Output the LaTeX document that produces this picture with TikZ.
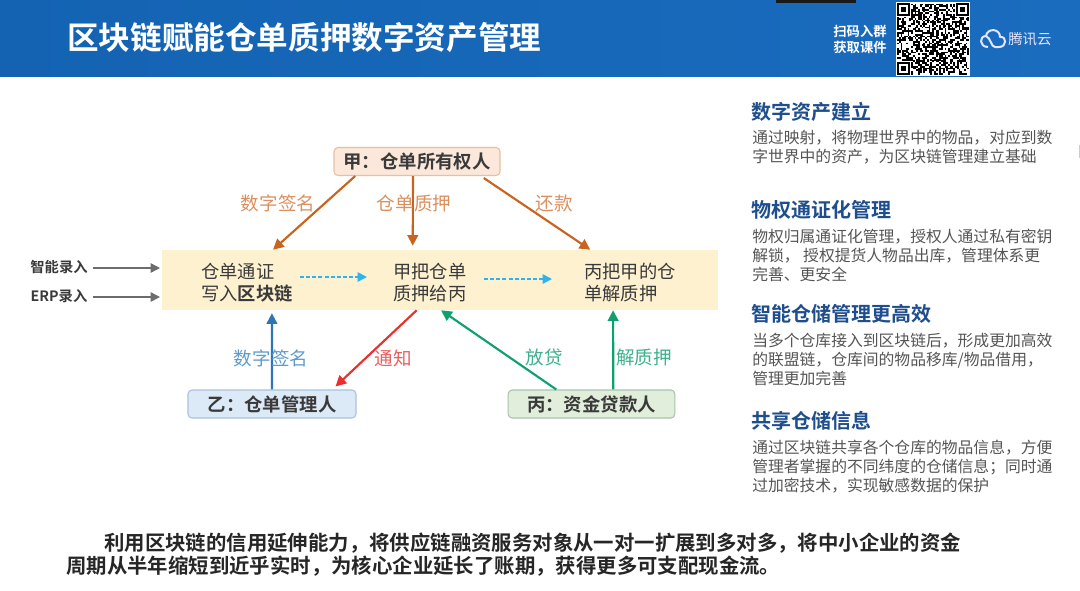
\documentclass[tikz,border=0pt]{standalone}
\usepackage{fontspec}
\setmainfont{Noto Sans CJK SC}[BoldFont={Noto Sans CJK SC Bold}]
\usetikzlibrary{arrows.meta,calc}
\definecolor{hdrA}{HTML}{1463B3}
\definecolor{hdrB}{HTML}{1A6CBE}
\definecolor{orangeL}{HTML}{C8641E}
\definecolor{orangeT}{HTML}{DB9060}
\definecolor{blueL}{HTML}{2E75B6}
\definecolor{blueT}{HTML}{5E9BCB}
\definecolor{redL}{HTML}{E8302F}
\definecolor{redT}{HTML}{E8605F}
\definecolor{greenL}{HTML}{0FA06E}
\definecolor{greenT}{HTML}{3FB08C}
\definecolor{dashC}{HTML}{2DB4F0}
\definecolor{headC}{HTML}{1F4E8C}
\definecolor{bodyC}{HTML}{555555}
\definecolor{darkT}{HTML}{3A3A3A}
\definecolor{bandC}{HTML}{FDF1D0}
\definecolor{jiaF}{HTML}{FBE8DA}
\definecolor{jiaD}{HTML}{E8BFA3}
\definecolor{yiF}{HTML}{DCE9F6}
\definecolor{yiD}{HTML}{A9C3DC}
\definecolor{bingF}{HTML}{E1EEDB}
\definecolor{bingD}{HTML}{A8C4AC}
\tikzset{
  x=0.75pt,y=-0.75pt,
  party/.style={draw=#1,rounded corners=3pt,line width=.8pt,minimum height=21pt,inner sep=0pt,font=\fontsize{13.8}{16}\selectfont\bfseries,text=darkT},
  bandtext/.style={anchor=west,align=left,font=\fontsize{13.7}{16.5}\selectfont,text=darkT,inner sep=0pt},
  edgetext/.style={font=\fontsize{13.9}{16}\selectfont,inner sep=0pt},
  conn/.style={line width=1.6pt,-{Triangle[length=8pt,width=8pt]}},
  flow/.style={line width=1.2pt,dashC,dash pattern=on 3pt off 1.6pt,-{Triangle[length=7pt,width=7pt]}},
  inp/.style={line width=1.1pt,gray!85!black,-{Triangle[length=7pt,width=7pt]}},
  inlabel/.style={font=\fontsize{10.7}{12}\selectfont\bfseries,text=darkT,inner sep=0pt},
  sidehead/.style={anchor=west,inner sep=0pt,font=\fontsize{15}{18}\selectfont\bfseries,text=headC},
  sidebody/.style={anchor=north west,inner sep=0pt,align=left,font=\fontsize{11.85}{14.2}\selectfont,text=bodyC},
  foot/.style={anchor=west,inner sep=0pt,font=\fontsize{15.3}{18}\selectfont\bfseries,text=black!85},
  qrbig/.style={draw=black,line width=1.3pt,fill=white},
}
\begin{document}
\begin{tikzpicture}
\useasboundingbox (0,0) rectangle (1080,590);
\fill[white] (0,0) rectangle (1080,590);
% header
\shade[left color=hdrA,right color=hdrB] (0,0) rectangle (1080,76);
\fill[black!90] (776,0) rectangle (856,3);
\fill[gray!40] (1078.5,145) rectangle (1080,158);
\node[anchor=west,inner sep=0pt,text=white,font=\fontsize{23.7}{28}\selectfont\bfseries] (title) at (67,38) {区块链赋能仓单质押数字资产管理};
\node[inner sep=0pt,text=white,align=center,font=\fontsize{10}{12}\selectfont\bfseries] (scan) at (860,39) {扫码入群\\获取课件};
% QR
\fill[white] (896,2) rectangle (970,76);
\pgfmathsetseed{4242}
\foreach \i in {0,...,40}{\foreach \j in {0,...,39}{
  \pgfmathparse{rnd<0.52?1:0}
  \ifnum\pgfmathresult=1
    \fill[black] ({897+\i*1.76},{3.5+\j*1.78}) rectangle ++(1.8,1.82);
  \fi
}}
\foreach \a/\b in {897/3,956/3,897/62}{
  \fill[white] (\a-1,\b-1) rectangle ++(15,15);
  \draw[qrbig] (\a+1,\b+1) rectangle ++(11,11);
  \fill[black] (\a+4,\b+4) rectangle ++(5,5);
}
% cloud logo
\draw[white!90!blue,line width=1.5pt,line join=round]
  (988,47) .. controls (979,47) and (979,36) .. (986,36)
  .. controls (987,28) and (1000,28) .. (1000,37)
  .. controls (1007,36) and (1007,47) .. (999,47) -- (995,47)
  .. controls (991,47) and (991,38) .. (986,36);
\node[anchor=west,inner sep=0pt,text=white!90!blue,font=\fontsize{10.8}{13}\selectfont] (brand) at (1008,39) {腾讯云};
% band
\node[fill=bandC,inner sep=0pt,minimum width=417pt,minimum height=45pt] (band) at (440,280) {};
\node[bandtext] (s1) at (201,283) {仓单通证\\写入\textbf{区块链}};
\node[bandtext] (s2) at (393,283) {甲把仓单\\质押给丙};
\node[bandtext] (s3) at (584,283) {丙把甲的仓\\单解质押};
\coordinate (f1a) at (300,277); \coordinate (f1b) at (367,277);
\coordinate (f2a) at (484,279); \coordinate (f2b) at (552,279);
\draw[flow] (f1a) -- (f1b);
\draw[flow] (f2a) -- (f2b);
% parties
\node[party=jiaD,fill=jiaF,minimum width=124.5pt] (jia) at (417,161.5) {甲：仓单所有权人};
\node[party=yiD,fill=yiF,minimum width=126pt] (yi) at (272,404) {乙：仓单管理人};
\node[party=bingD,fill=bingF,minimum width=125pt] (bing) at (591.5,404) {丙：资金贷款人};
% inputs
\node[inlabel] (in1) at (59,267) {智能录入};
\node[inlabel] (in2) at (59,296) {ERP录入};
\coordinate (in1e) at (160,268); \coordinate (in2e) at (160,297);
\draw[inp] (in1.east |- in1e) ++(5,0) -- (in1e);
\draw[inp] (in2.east |- in2e) ++(5,0) -- (in2e);
% connectors
\draw[conn,orangeL] ($(jia.south west)!.13!(jia.south east)$) -- ($(band.north west)!.2!(band.north east)$);
\draw[conn,orangeL] ($(jia.south west)!.476!(jia.south east)$) -- ($(band.north west)!.451!(band.north east)+(0,-4)$);
\draw[conn,orangeL] ($(jia.south west)!.9!(jia.south east)+(0,2)$) -- ($(band.north west)!.77!(band.north east)$);
\draw[conn,blueL] (yi.north) -- ($(band.south west)!.198!(band.south east)+(0,3)$);
\draw[conn,redL] ($(band.south west)!.458!(band.south east)$) -- ($(yi.north east)+(-21,-3)$);
\draw[conn,greenL] ($(bing.north west)!.29!(bing.north east)$) -- ($(band.south west)!.502!(band.south east)$);
\draw[conn,greenL] ($(bing.north west)!.63!(bing.north east)$) -- ($(band.south west)!.811!(band.south east)$);
% edge labels
\node[edgetext,text=orangeT] (l1) at (278,203) {数字签名};
\node[edgetext,text=orangeT] (l2) at (414,203) {仓单质押};
\node[edgetext,text=orangeT] (l3) at (554,203) {还款};
\node[edgetext,text=blueT] (l4) at (271,358) {数字签名};
\node[edgetext,text=redT] (l5) at (393,358) {通知};
\node[edgetext,text=greenT] (l6) at (544,357) {放贷};
\node[edgetext,text=greenT] (l7) at (644,357) {解质押};
% side text
\node[sidehead] (h1) at (751,112) {数字资产建立};
\node[sidebody] (b1) at (752,130) {通过映射，将物理世界中的物品，对应到数\\字世界中的资产，为区块链管理建立基础};
\node[sidehead] (h2) at (751,210) {物权通证化管理};
\node[sidebody] (b2) at (752,229) {物权归属通证化管理，授权人通过私有密钥\\解锁， 授权提货人物品出库，管理体系更\\完善、更安全};
\node[sidehead] (h3) at (751,314) {智能仓储管理更高效};
\node[sidebody] (b3) at (752,333) {当多个仓库接入到区块链后，形成更加高效\\的联盟链，仓库间的物品移库/物品借用，\\管理更加完善};
\node[sidehead] (h4) at (751,421) {共享仓储信息};
\node[sidebody] (b4) at (752,440) {通过区块链共享各个仓库的物品信息，方便\\管理者掌握的不同纬度的仓储信息；同时通\\过加密技术，实现敏感数据的保护};
% footer
\node[foot] (f1) at (104,543) {利用区块链的信用延伸能力，将供应链融资服务对象从一对一扩展到多对多，将中小企业的资金};
\node[foot] (f2) at (66,566) {周期从半年缩短到近乎实时，为核心企业延长了账期，获得更多可支配现金流。};
\end{tikzpicture}
\end{document}
